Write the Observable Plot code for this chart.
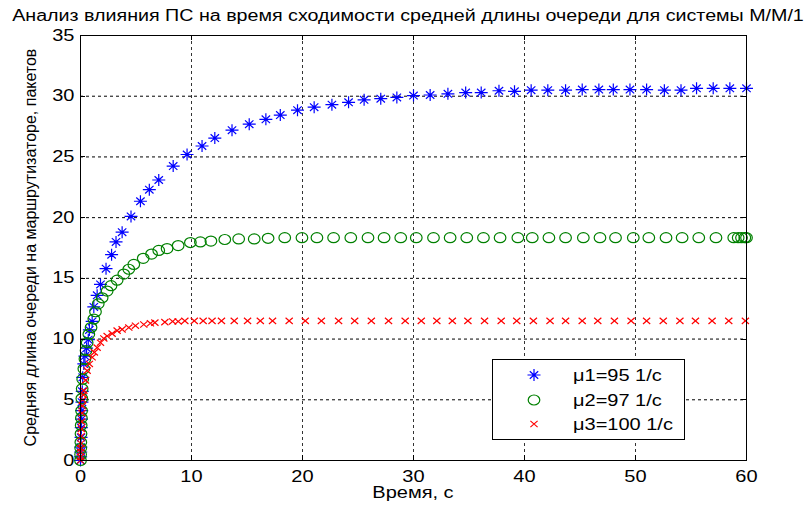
<!DOCTYPE html>
<html><head><meta charset="utf-8">
<script src="https://cdn.jsdelivr.net/npm/d3@7"></script>
<script src="https://cdn.jsdelivr.net/npm/@observablehq/plot@0.6"></script>
<style>
body{margin:0;background:#fff;}
#chart svg{display:block;}
</style></head><body><div id="chart"></div>
<script>
// ---- data ----
const t1 = [0,0.01,0.02,0.03,0.05,0.07,0.09,0.11,0.13,0.16,
  0.2,0.3,0.4,0.55,0.7,0.8,1.05,1.2,1.5,1.8,
  2.3,2.8,3.2,3.75,4.55,5.4,6.2,7.05,8.35,9.6,
  10.95,12.1,13.65,15.2,16.7,18.0,19.55,21.05,22.65,24.15,
  25.55,27.05,28.5,30.0,31.5,33.1,34.7,36.1,37.7,39.1,
  40.6,42.1,43.7,45.2,46.7,48.0,49.5,51.0,52.6,54.1,
  55.5,57.0,58.5,60.0];
const q1 = [0,0.3,0.7,1.1,1.9,2.7,3.4,4.1,4.8,5.7,
  6.85,7.95,8.6,9.25,9.95,10.75,11.45,12.65,13.6,14.5,
  15.8,16.95,18.0,18.8,20.1,21.35,22.3,23.1,24.25,25.2,
  25.9,26.55,27.2,27.7,28.1,28.45,28.85,29.1,29.3,29.5,
  29.7,29.8,29.9,30.05,30.1,30.2,30.3,30.3,30.45,30.4,
  30.5,30.5,30.5,30.55,30.55,30.55,30.55,30.55,30.5,30.5,
  30.65,30.65,30.65,30.65];

const t2 = [0,0.01,0.02,0.03,0.045,0.06,0.08,0.1,0.12,0.15,
  0.2,0.3,0.4,0.5,0.6,0.75,0.95,1.2,1.35,1.6,
  1.95,2.4,2.75,3.3,3.9,4.35,4.8,5.65,6.4,7.05,
  7.8,8.8,9.9,10.8,11.75,13.0,14.25,15.65,16.9,18.4,
  19.95,21.3,22.8,24.35,25.9,27.35,28.85,30.25,31.8,33.3,
  34.8,36.3,37.8,39.4,40.7,42.2,43.7,45.3,46.8,48.2,
  49.8,51.2,52.75,54.2,55.7,57.25,58.85,59.25,59.55,59.85,
  60];
const q2 = [0,0.5,1.0,1.5,2.2,2.9,3.5,4.1,5.1,5.9,
  6.7,7.55,8.35,9.05,9.7,10.4,10.95,11.65,12.25,12.9,
  13.4,13.95,14.4,14.85,15.35,15.75,16.15,16.65,17.0,17.3,
  17.45,17.7,17.95,18.0,18.07,18.2,18.25,18.25,18.3,18.35,
  18.35,18.35,18.35,18.35,18.35,18.35,18.35,18.35,18.35,18.35,
  18.35,18.35,18.35,18.35,18.35,18.35,18.35,18.35,18.35,18.35,
  18.35,18.35,18.35,18.35,18.35,18.35,18.35,18.35,18.35,18.35,
  18.35];

const t3 = [0,0.01,0.02,0.03,0.04,0.06,0.08,0.1,0.13,0.16,
  0.2,0.25,0.3,0.45,0.6,0.8,1.05,1.25,1.5,1.8,
  2.1,2.4,2.85,3.3,3.75,4.35,4.95,5.7,6.3,6.7,
  7.6,8.3,8.8,9.4,10.25,11.05,11.85,12.7,13.85,15.05,
  16.2,17.3,18.8,20.25,21.7,23.25,24.7,26.2,27.75,29.25,
  30.7,32.1,33.5,34.9,36.4,37.9,39.3,40.8,42.3,43.7,
  45.2,46.6,48.1,49.6,51.0,52.5,54.0,55.4,56.9,58.4,
  59.9];
const q3 = [0,0.3,0.7,1.0,1.4,2.0,2.6,3.2,3.9,4.5,
  5.0,5.4,5.75,6.6,7.4,7.95,8.5,8.9,9.3,9.7,
  10.05,10.25,10.45,10.7,10.8,10.95,11.1,11.2,11.3,11.35,
  11.4,11.45,11.45,11.5,11.5,11.5,11.5,11.5,11.5,11.5,
  11.5,11.5,11.5,11.5,11.5,11.5,11.5,11.5,11.5,11.5,
  11.5,11.5,11.5,11.5,11.5,11.5,11.5,11.5,11.5,11.5,
  11.5,11.5,11.5,11.5,11.5,11.5,11.5,11.5,11.5,11.5,
  11.5];

const legendLabels = ["\u03bc1=95 1/c", "\u03bc2=97 1/c", "\u03bc3=100 1/c"];
const colors = ["#0000ff", "#008000", "#ff0000"];
const titleText = "Анализ влияния ПС на время сходимости средней длины очереди для системы M/M/1";
const xLabelText = "Время, с";
const yLabelText = "Средняя длина очереди на маршрутизаторе, пакетов";
const xTicks = [0,10,20,30,40,50,60];
const yTicks = [0,5,10,15,20,25,30,35];

// ---- marker shapes (MATLAB-like, slightly wider than tall) ----
const starSym = {draw(c){
  const h=6.5, v=6, dx=4.2, dy=3.8;
  c.moveTo(-h,0); c.lineTo(h,0);
  c.moveTo(0,-v); c.lineTo(0,v);
  c.moveTo(-dx,-dy); c.lineTo(dx,dy);
  c.moveTo(-dx,dy); c.lineTo(dx,-dy);
}};
const circSym = {draw(c){
  const rx=5.8, ry=5.0, k=0.5523;
  c.moveTo(rx,0);
  c.bezierCurveTo(rx,ry*k,rx*k,ry,0,ry);
  c.bezierCurveTo(-rx*k,ry,-rx,ry*k,-rx,0);
  c.bezierCurveTo(-rx,-ry*k,-rx*k,-ry,0,-ry);
  c.bezierCurveTo(rx*k,-ry,rx,-ry*k,rx,0);
  c.closePath();
}};
const crossSym = {draw(c){
  const a=3.6, b=3.1;
  c.moveTo(-a,-b); c.lineTo(a,b);
  c.moveTo(-a,b); c.lineTo(a,-b);
}};
const symbols = [starSym, circSym, crossSym];

const series = [[t1,q1],[t2,q2],[t3,q3]].map(([t,q]) =>
  d3.range(Math.min(t.length,q.length)).map(i => ({t:t[i], q:q[i]})));

const W = 811, H = 506;
const plot = Plot.plot({
  width: W, height: H,
  marginLeft: 80, marginRight: 65, marginTop: 35, marginBottom: 46,
  x: {domain:[0,60], label:null},
  y: {domain:[0,35], label:null},
  style: {fontFamily: "'Liberation Sans', Arial, sans-serif", fontSize: "16px", color: "black", background: "white"},
  marks: [
    Plot.gridX(xTicks, {stroke:"#333", strokeOpacity:1, strokeDasharray:"3,3", strokeWidth:1}),
    Plot.gridY(yTicks, {stroke:"black", strokeOpacity:1, strokeDasharray:"3,3", strokeWidth:1}),
    Plot.axisX(xTicks, {tickSize:0, tickPadding:10, fontSize:16, tickFormat: d => String(d)}),
    Plot.axisY(yTicks, {tickSize:0, tickPadding:6, fontSize:16, tickFormat: d => String(d)}),
    ...series.map((s,i) => Plot.dot(s, {x:"t", y:"q", symbol: symbols[i], r:5, fill:"none", stroke: colors[i], strokeWidth: 1.2})),
    Plot.frame({stroke:"black", strokeWidth:1})
  ]
});
document.getElementById("chart").appendChild(plot);

const svg = d3.select(plot);
const xs = plot.scale("x"), ys = plot.scale("y");
const X0 = xs.apply(0), X1 = xs.apply(60), Y0 = ys.apply(0), Y1 = ys.apply(35);

// inward ticks on all four sides
const tg = svg.append("g").attr("stroke","black").attr("stroke-width",1);
xTicks.forEach(v => {
  const x = Math.round(xs.apply(v)) + 0.5;
  tg.append("line").attr("x1",x).attr("x2",x).attr("y1",Y0).attr("y2",Y0-5);
  tg.append("line").attr("x1",x).attr("x2",x).attr("y1",Y1).attr("y2",Y1+5);
});
yTicks.forEach(v => {
  const y = Math.round(ys.apply(v)) + 0.5;
  tg.append("line").attr("y1",y).attr("y2",y).attr("x1",X0).attr("x2",X0+5);
  tg.append("line").attr("y1",y).attr("y2",y).attr("x1",X1).attr("x2",X1-5);
});

const font = "'Liberation Sans', Arial, sans-serif";
// title
const titleEl = svg.append("text").attr("class","fit").attr("x",408).attr("y",21)
  .attr("text-anchor","middle").attr("font-family",font).attr("font-size",16).text(titleText);
// x label
svg.append("text").attr("x",(X0+X1)/2).attr("y",498)
  .attr("text-anchor","middle").attr("font-family",font).attr("font-size",16).text(xLabelText);
// y label (rotated)
svg.append("text").attr("class","norot").attr("transform",`translate(36,${(Y0+Y1)/2}) rotate(-90)`)
  .attr("text-anchor","middle").attr("font-family",font).attr("font-size",16).text(yLabelText);

// legend
const lg = svg.append("g");
lg.append("rect").attr("x",492.5).attr("y",359.5).attr("width",192).attr("height",80)
  .attr("fill","white").attr("stroke","black").attr("stroke-width",1);
const rowsY = [375, 400, 424];
legendLabels.forEach((lab,i) => {
  const p = d3.path(); symbols[i].draw(p);
  lg.append("path").attr("d", p.toString()).attr("transform",`translate(534,${rowsY[i]})`)
    .attr("fill","none").attr("stroke",colors[i]).attr("stroke-width",1.2);
  lg.append("text").attr("x",573).attr("y",rowsY[i]+6).attr("text-anchor","start")
    .attr("font-family",font).attr("font-size",16).text(lab);
});

// horizontal stretch of horizontal texts (the reference is widened), around each text's anchor
const S = 1.25;
svg.selectAll("text").each(function(){
  const el = this;
  if (el.classList.contains("norot")) return;
  let sx = S;
  if (el.classList.contains("fit")) {
    const len = el.getComputedTextLength();
    sx = len > 0 ? 792 / len : S;
  }
  const ax = parseFloat(el.getAttribute("x")) || 0;
  const tr = el.getAttribute("transform") || "";
  el.setAttribute("transform", `${tr} translate(${ax},0) scale(${sx},1) translate(${-ax},0)`.trim());
});
</script></body></html>
